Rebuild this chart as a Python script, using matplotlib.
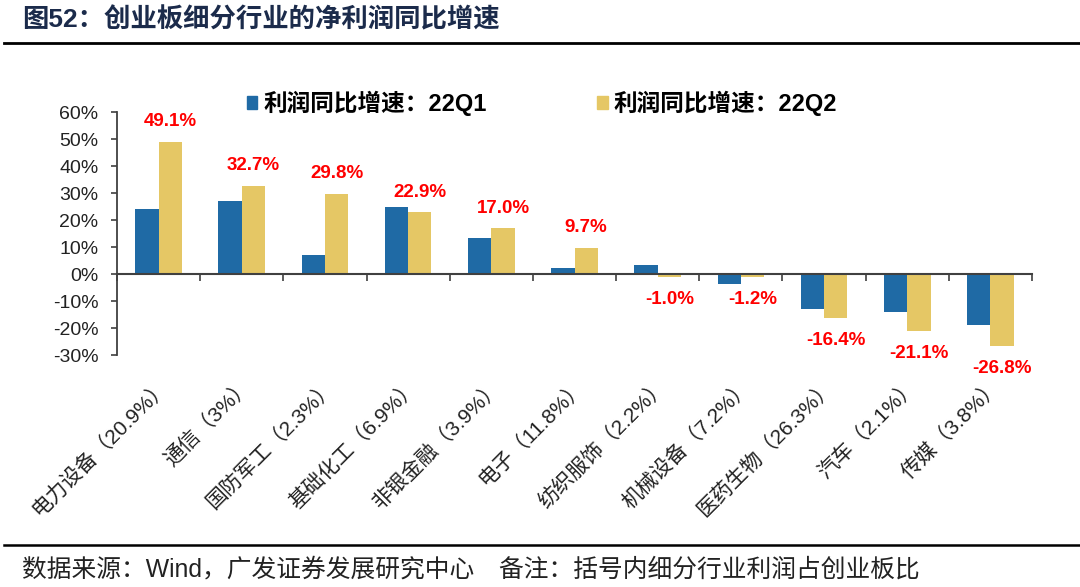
import matplotlib
matplotlib.use("Agg")
import matplotlib.pyplot as plt
from matplotlib.patches import Patch
from matplotlib.lines import Line2D
import numpy as np

plt.rcParams['font.family'] = ['Liberation Sans', 'Noto Sans CJK SC', 'DejaVu Sans']

# data
industries = ['电力设备', '通信', '国防军工', '基础化工', '非银金融', '电子',
              '纺织服饰', '机械设备', '医药生物', '汽车', '传媒']
weights = ['20.9%', '3%', '2.3%', '6.9%', '3.9%', '11.8%',
           '2.2%', '7.2%', '26.3%', '2.1%', '3.8%']
q1 = [24.0, 27.1, 7.1, 24.7, 13.3, 2.1, 3.4, -3.8, -12.8, -14.0, -18.7]
q2 = [49.1, 32.7, 29.8, 22.9, 17.0, 9.7, -1.0, -1.2, -16.4, -21.1, -26.8]
yticks = [-30, -20, -10, 0, 10, 20, 30, 40, 50, 60]

blue = '#1F6AA5'
gold = '#E5C765'
axis_col = '#404040'

fig = plt.figure(figsize=(10.8, 5.87), dpi=100)
ax = fig.add_axes([117/1080, 1-355/587, (1032-117)/1080, (355-112.3)/587])

x = np.arange(len(industries))
w = 0.28
ax.bar(x - w/2, q1, w, color=blue, label='利润同比增速：22Q1')
ax.bar(x + w/2, q2, w, color=gold, label='利润同比增速：22Q2')

for xi, v in zip(x, q2):
    off = 14.5 if v >= 0 else -16
    ax.annotate('%.1f%%' % v, (xi + w/2, v), xytext=(0, off), textcoords='offset points',
                ha='center', va='center', color='#FF0000', fontsize=13.5, fontweight='bold')

ax.set_xlim(-0.5, len(industries) - 0.5)
ax.set_ylim(-30, 60)
ax.set_yticks(yticks, labels=['%d%%' % t for t in yticks])
ax.tick_params(axis='y', direction='out', length=4.5, width=1.2, color=axis_col,
               labelsize=14, pad=9, labelcolor='#222222')

# zero line with category boundary ticks
ax.spines['bottom'].set_position(('data', 0))
ax.spines['bottom'].set_color(axis_col)
ax.spines['bottom'].set_linewidth(1.5)
ax.spines['left'].set_color(axis_col)
ax.spines['left'].set_linewidth(1.3)
ax.spines['top'].set_visible(False)
ax.spines['right'].set_visible(False)
ax.set_xticks(np.arange(len(industries) + 1) - 0.5, labels=[])
ax.tick_params(axis='x', direction='out', length=5, width=1.2, color=axis_col)

# category labels at the bottom of the axes
sec = ax.secondary_xaxis('bottom')
sec.spines['bottom'].set_visible(False)
sec.set_xticks(x, labels=['%s（%s）' % (n, p) for n, p in zip(industries, weights)])
sec.tick_params(length=0, pad=15, labelsize=15, labelcolor='#222222')
for lbl in sec.get_xticklabels():
    lbl.set(rotation=45, ha='right', va='top', rotation_mode='anchor')

handles = [Patch(color=blue), Patch(color=gold)]
fig.legend(handles, ['利润同比增速：22Q1', '利润同比增速：22Q2'], ncol=2, loc='center',
           bbox_to_anchor=(542/1080, 1-103/587), frameon=False,
           prop={'size': 17, 'weight': 'bold'}, handlelength=0.45, handleheight=0.45,
           handletextpad=0.25, columnspacing=4.7)

# title, rules and footer
fig.text(22/1080, 1-20/587, '图52：创业板细分行业的净利润同比增速', fontsize=19,
         fontweight='bold', color='#1B2B4B', ha='left', va='center')
fig.add_artist(Line2D([4/1080, 1], [1-43/587, 1-43/587], color='black', lw=2))
fig.add_artist(Line2D([4/1080, 1], [1-545/587, 1-545/587], color='black', lw=1.8))
fig.text(22/1080, 1-570/587, '数据来源：Wind，广发证券发展研究中心　备注：括号内细分行业利润占创业板比',
         fontsize=17.8, color='#222222', ha='left', va='center')

fig.savefig('out.png', dpi=100)
